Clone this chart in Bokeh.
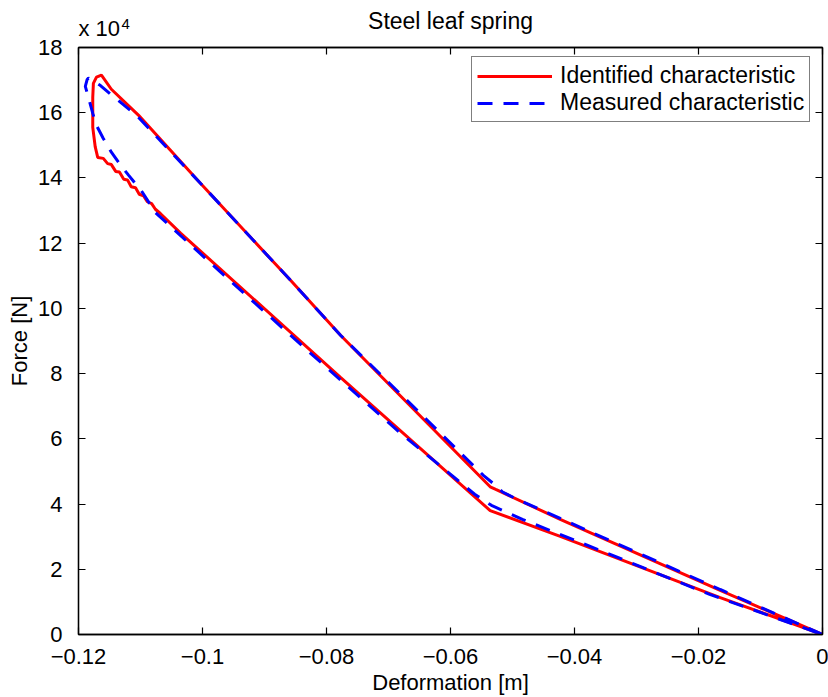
from bokeh.plotting import figure
from bokeh.models import Range1d, FixedTicker, LinearAxis, Legend, LegendItem, Title
from bokeh.embed import file_html
from bokeh.resources import INLINE

# ---- data ----
x_ticks = [-0.12, -0.10, -0.08, -0.06, -0.04, -0.02, 0.0]
x_tick_labels = ["\u22120.12", "\u22120.1", "\u22120.08", "\u22120.06", "\u22120.04", "\u22120.02", "0"]
y_ticks = [0, 20000, 40000, 60000, 80000, 100000, 120000, 140000, 160000, 180000]
y_tick_labels = ["0", "2", "4", "6", "8", "10", "12", "14", "16", "18"]

# Identified characteristic (red, solid): origin -> upper branch -> tip -> lower branch -> origin
ident_x = [0.0, -0.0165, -0.0423, -0.0527, -0.0536, -0.0777, -0.0858, -0.1003, -0.1103,
           -0.1147, -0.1163, -0.1171, -0.1176, -0.1177, -0.1177, -0.1173, -0.1169,
           -0.1160, -0.1153, -0.1147, -0.1140, -0.1134, -0.1127, -0.1121, -0.1115,
           -0.1108, -0.1102, -0.1095, -0.1089, -0.1082, -0.1076, -0.1068,
           -0.1035, -0.0777, -0.0536, -0.0423, -0.0165, 0.0]
ident_y = [0, 13500, 35300, 44500, 45300, 91700, 108600, 138300, 159200,
           167200, 171500, 170900, 169000, 164700, 155500, 149500, 146300,
           146000, 144400, 144100, 142000, 141800, 139600, 139400, 137300,
           137000, 135000, 134500, 132700, 132100, 130400, 129100,
           123000, 78800, 38000, 30100, 11300, 0]

# Measured characteristic (blue, dashed)
meas_x = [0.0, -0.0165, -0.0423, -0.0495, -0.0516, -0.0531, -0.0547, -0.0777, -0.0858,
          -0.1003, -0.1105, -0.1132, -0.1148, -0.1165, -0.1184, -0.1186,
          -0.1189, -0.1184, -0.1177, -0.1171, -0.1160, -0.1147, -0.1132, -0.1119,
          -0.1097, -0.1076, -0.1018, -0.0965, -0.0903, -0.0839, -0.0774, -0.0681,
          -0.0561, -0.0534, -0.0484, -0.0360, -0.0182, 0.0]
meas_y = [0, 13800, 35600, 41700, 43700, 46300, 48800, 91700, 108600,
          138300, 158900, 163200, 165600, 168400, 170600, 170200,
          168100, 164700, 159800, 156100, 152100, 147900, 143900, 140800,
          135600, 129400, 119300, 110100, 99500, 88500, 77500, 61800,
          43000, 39600, 35300, 25900, 12300, 0]

FONT = "Liberation Sans"

p = figure(frame_width=744, frame_height=587,
           x_range=Range1d(-0.12, 0.0), y_range=Range1d(0, 180000),
           output_backend="svg", toolbar_location=None, title=None,
           min_border_left=78, min_border_top=0, min_border_right=6, min_border_bottom=10)
p.grid.visible = False
p.outline_line_color = "black"
p.outline_line_width = 1.3
p.background_fill_color = "white"
p.border_fill_color = "white"

xa = p.xaxis[0]
ya = p.yaxis[0]
xa.ticker = FixedTicker(ticks=x_ticks)
xa.major_label_overrides = {t: l for t, l in zip(x_ticks, x_tick_labels)}
ya.ticker = FixedTicker(ticks=y_ticks)
ya.major_label_overrides = {t: l for t, l in zip(y_ticks, y_tick_labels)}
xa.axis_label = "Deformation [m]"
ya.axis_label = "Force [N]"

for ax in (xa, ya):
    ax.major_tick_in = 7
    ax.major_tick_out = 0
    ax.minor_tick_in = 0
    ax.minor_tick_out = 0
    ax.axis_line_color = "black"
    ax.axis_line_width = 1.3
    ax.major_tick_line_color = "black"
    ax.major_tick_line_width = 1.2
    ax.major_label_text_font = FONT
    ax.major_label_text_font_size = "22px"
    ax.major_label_text_color = "black"
    ax.axis_label_text_font = FONT
    ax.axis_label_text_font_size = "22px"
    ax.axis_label_text_font_style = "normal"
    ax.axis_label_text_color = "black"
xa.major_label_standoff = 14
xa.axis_label_standoff = 3
ya.major_label_standoff = 16
ya.axis_label_standoff = 3

# box axes (top / right) with inward ticks, no labels
top = LinearAxis(ticker=FixedTicker(ticks=x_ticks),
                 major_label_overrides={t: "" for t in x_ticks})
right = LinearAxis(ticker=FixedTicker(ticks=y_ticks),
                   major_label_overrides={t: "" for t in y_ticks})
for ax in (top, right):
    ax.major_tick_in = 7
    ax.major_tick_out = 0
    ax.minor_tick_in = 0
    ax.minor_tick_out = 0
    ax.axis_line_color = "black"
    ax.axis_line_width = 1.3
    ax.major_tick_line_width = 1.2
    ax.major_label_text_font_size = "0px"
    ax.major_label_standoff = 0
p.add_layout(top, "above")
p.add_layout(right, "right")

# header rows (from the frame outward): spacer, multiplier, title, exponent, spacer
def title_row(text, size, standoff, align="left", offset=0):
    return Title(text=text, align=align, vertical_align="bottom", text_font=FONT,
                 text_font_size=size, text_font_style="normal", text_color="black",
                 standoff=standoff, offset=offset)

p.add_layout(title_row(" ", "10px", -0.17), "above")
p.add_layout(title_row("x 10", "22px", -13.6), "above")
p.add_layout(title_row("Steel leaf spring", "23px", -25.7, align="center"), "above")
p.add_layout(title_row("4", "15px", -18.7, offset=43), "above")
p.add_layout(title_row(" ", "10px", 5.83), "above")

r_ident = p.line(ident_x, ident_y, line_color="#ff0000", line_width=3)
r_meas = p.line(meas_x, meas_y, line_color="#0000ff", line_width=3, line_dash="15 11")

legend = Legend(items=[LegendItem(label="Identified characteristic", renderers=[r_ident]),
                       LegendItem(label="Measured characteristic", renderers=[r_meas])],
                location=(393, 512))
legend.label_text_font = FONT
legend.label_text_font_size = "23px"
legend.label_text_color = "black"
legend.border_line_color = "black"
legend.border_line_width = 1.3
legend.background_fill_color = "white"
legend.background_fill_alpha = 1.0
legend.padding = 5
legend.spacing = 0
legend.margin = 0
legend.glyph_width = 75
legend.glyph_height = 24
legend.label_height = 24
legend.label_standoff = 8
p.add_layout(legend, "center")

open("out.html", "w").write(file_html(p, INLINE))
